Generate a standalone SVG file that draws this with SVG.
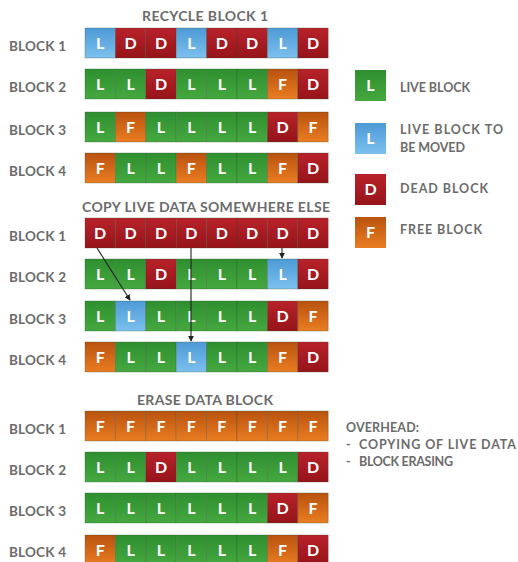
<svg xmlns="http://www.w3.org/2000/svg" width="518" height="562" viewBox="0 0 518 562">
<defs>
<linearGradient id="gG" x1="0" y1="0" x2="0" y2="1"><stop offset="0" stop-color="#2f8f30"/><stop offset="1" stop-color="#45a83f"/></linearGradient>
<linearGradient id="gB" x1="0" y1="0" x2="0" y2="1"><stop offset="0" stop-color="#4d9ad6"/><stop offset="1" stop-color="#7cc0ee"/></linearGradient>
<linearGradient id="gD" x1="0" y1="0" x2="0" y2="1"><stop offset="0" stop-color="#b8222a"/><stop offset="1" stop-color="#96141a"/></linearGradient>
<linearGradient id="gF" x1="0" y1="0" x2="0" y2="1"><stop offset="0" stop-color="#b8520f"/><stop offset="1" stop-color="#ea7d22"/></linearGradient>
<marker id="ah" viewBox="0 0 8 8" refX="7" refY="4" markerWidth="6" markerHeight="6" orient="auto" markerUnits="userSpaceOnUse"><path d="M0,0 L8,4 L0,8 z" fill="#222"/></marker>
</defs>
<style>
.t{font-family:Lato,"Open Sans","Liberation Sans",sans-serif;font-weight:700;fill:#6b6b6b;font-size:13.5px}
.h{font-family:Lato,"Open Sans","Liberation Sans",sans-serif;font-weight:700;fill:#6b6b6b;font-size:14px;text-anchor:middle}
.c{stroke:#2a4a2a;stroke-opacity:0.35;stroke-width:0.8}
.L{fill:url(#gG)}.B{fill:url(#gB)}.D{fill:url(#gD)}.F{fill:url(#gF)}
.k{font-family:Lato,"Open Sans","Liberation Sans",sans-serif;font-weight:700;fill:#fff;font-size:16px;text-anchor:middle}
.lg{font-family:Lato,"Open Sans","Liberation Sans",sans-serif;font-weight:700;fill:#6b6b6b;font-size:12.5px}
.ar{stroke:#222;stroke-width:1.1;fill:none}
</style>
<rect width="518" height="562" fill="#fff"/>

<text class="h" x="205" y="21" textLength="126">RECYCLE BLOCK 1</text>
<text class="h" x="206" y="212" textLength="248">COPY LIVE DATA SOMEWHERE ELSE</text>
<text class="h" x="205" y="405" textLength="136">ERASE DATA BLOCK</text>

<g id="a1"><text class="t" x="9" y="51" textLength="57">BLOCK 1</text>
<rect class="B c" x="85" y="28" width="30.4" height="30"/><rect class="D c" x="115.4" y="28" width="30.4" height="30"/><rect class="D c" x="145.8" y="28" width="30.4" height="30"/><rect class="B c" x="176.2" y="28" width="30.4" height="30"/><rect class="D c" x="206.6" y="28" width="30.4" height="30"/><rect class="D c" x="237" y="28" width="30.4" height="30"/><rect class="B c" x="267.4" y="28" width="30.4" height="30"/><rect class="D c" x="297.8" y="28" width="30.4" height="30"/>
<text class="k" y="49"><tspan x="100.2">L</tspan><tspan x="130.6">D</tspan><tspan x="161">D</tspan><tspan x="191.4">L</tspan><tspan x="221.8">D</tspan><tspan x="252.2">D</tspan><tspan x="282.6">L</tspan><tspan x="313">D</tspan></text></g>

<g id="a2"><text class="t" x="9" y="92" textLength="57">BLOCK 2</text>
<rect class="L c" x="85" y="69" width="30.4" height="30"/><rect class="L c" x="115.4" y="69" width="30.4" height="30"/><rect class="D c" x="145.8" y="69" width="30.4" height="30"/><rect class="L c" x="176.2" y="69" width="30.4" height="30"/><rect class="L c" x="206.6" y="69" width="30.4" height="30"/><rect class="L c" x="237" y="69" width="30.4" height="30"/><rect class="F c" x="267.4" y="69" width="30.4" height="30"/><rect class="D c" x="297.8" y="69" width="30.4" height="30"/>
<text class="k" y="90"><tspan x="100.2">L</tspan><tspan x="130.6">L</tspan><tspan x="161">D</tspan><tspan x="191.4">L</tspan><tspan x="221.8">L</tspan><tspan x="252.2">L</tspan><tspan x="282.6">F</tspan><tspan x="313">D</tspan></text></g>

<g id="a3"><text class="t" x="9" y="135" textLength="57">BLOCK 3</text>
<rect class="L c" x="85" y="112" width="30.4" height="30"/><rect class="F c" x="115.4" y="112" width="30.4" height="30"/><rect class="L c" x="145.8" y="112" width="30.4" height="30"/><rect class="L c" x="176.2" y="112" width="30.4" height="30"/><rect class="L c" x="206.6" y="112" width="30.4" height="30"/><rect class="L c" x="237" y="112" width="30.4" height="30"/><rect class="D c" x="267.4" y="112" width="30.4" height="30"/><rect class="F c" x="297.8" y="112" width="30.4" height="30"/>
<text class="k" y="133"><tspan x="100.2">L</tspan><tspan x="130.6">F</tspan><tspan x="161">L</tspan><tspan x="191.4">L</tspan><tspan x="221.8">L</tspan><tspan x="252.2">L</tspan><tspan x="282.6">D</tspan><tspan x="313">F</tspan></text></g>

<g id="a4"><text class="t" x="9" y="176" textLength="57">BLOCK 4</text>
<rect class="F c" x="85" y="153" width="30.4" height="30"/><rect class="L c" x="115.4" y="153" width="30.4" height="30"/><rect class="L c" x="145.8" y="153" width="30.4" height="30"/><rect class="F c" x="176.2" y="153" width="30.4" height="30"/><rect class="L c" x="206.6" y="153" width="30.4" height="30"/><rect class="L c" x="237" y="153" width="30.4" height="30"/><rect class="F c" x="267.4" y="153" width="30.4" height="30"/><rect class="D c" x="297.8" y="153" width="30.4" height="30"/>
<text class="k" y="174"><tspan x="100.2">F</tspan><tspan x="130.6">L</tspan><tspan x="161">L</tspan><tspan x="191.4">F</tspan><tspan x="221.8">L</tspan><tspan x="252.2">L</tspan><tspan x="282.6">F</tspan><tspan x="313">D</tspan></text></g>

<g id="b1"><text class="t" x="9" y="241" textLength="57">BLOCK 1</text>
<rect class="D c" x="85" y="218" width="30.4" height="30"/><rect class="D c" x="115.4" y="218" width="30.4" height="30"/><rect class="D c" x="145.8" y="218" width="30.4" height="30"/><rect class="D c" x="176.2" y="218" width="30.4" height="30"/><rect class="D c" x="206.6" y="218" width="30.4" height="30"/><rect class="D c" x="237" y="218" width="30.4" height="30"/><rect class="D c" x="267.4" y="218" width="30.4" height="30"/><rect class="D c" x="297.8" y="218" width="30.4" height="30"/>
<text class="k" y="239"><tspan x="100.2">D</tspan><tspan x="130.6">D</tspan><tspan x="161">D</tspan><tspan x="191.4">D</tspan><tspan x="221.8">D</tspan><tspan x="252.2">D</tspan><tspan x="282.6">D</tspan><tspan x="313">D</tspan></text></g>

<g id="b2"><text class="t" x="9" y="282" textLength="57">BLOCK 2</text>
<rect class="L c" x="85" y="259" width="30.4" height="30"/><rect class="L c" x="115.4" y="259" width="30.4" height="30"/><rect class="D c" x="145.8" y="259" width="30.4" height="30"/><rect class="L c" x="176.2" y="259" width="30.4" height="30"/><rect class="L c" x="206.6" y="259" width="30.4" height="30"/><rect class="L c" x="237" y="259" width="30.4" height="30"/><rect class="B c" x="267.4" y="259" width="30.4" height="30"/><rect class="D c" x="297.8" y="259" width="30.4" height="30"/>
<text class="k" y="280"><tspan x="100.2">L</tspan><tspan x="130.6">L</tspan><tspan x="161">D</tspan><tspan x="191.4">L</tspan><tspan x="221.8">L</tspan><tspan x="252.2">L</tspan><tspan x="282.6">L</tspan><tspan x="313">D</tspan></text></g>

<g id="b3"><text class="t" x="9" y="324" textLength="57">BLOCK 3</text>
<rect class="L c" x="85" y="301" width="30.4" height="30"/><rect class="B c" x="115.4" y="301" width="30.4" height="30"/><rect class="L c" x="145.8" y="301" width="30.4" height="30"/><rect class="L c" x="176.2" y="301" width="30.4" height="30"/><rect class="L c" x="206.6" y="301" width="30.4" height="30"/><rect class="L c" x="237" y="301" width="30.4" height="30"/><rect class="D c" x="267.4" y="301" width="30.4" height="30"/><rect class="F c" x="297.8" y="301" width="30.4" height="30"/>
<text class="k" y="322"><tspan x="100.2">L</tspan><tspan x="130.6">L</tspan><tspan x="161">L</tspan><tspan x="191.4">L</tspan><tspan x="221.8">L</tspan><tspan x="252.2">L</tspan><tspan x="282.6">D</tspan><tspan x="313">F</tspan></text></g>

<g id="b4"><text class="t" x="9" y="365" textLength="57">BLOCK 4</text>
<rect class="F c" x="85" y="342" width="30.4" height="30"/><rect class="L c" x="115.4" y="342" width="30.4" height="30"/><rect class="L c" x="145.8" y="342" width="30.4" height="30"/><rect class="B c" x="176.2" y="342" width="30.4" height="30"/><rect class="L c" x="206.6" y="342" width="30.4" height="30"/><rect class="L c" x="237" y="342" width="30.4" height="30"/><rect class="F c" x="267.4" y="342" width="30.4" height="30"/><rect class="D c" x="297.8" y="342" width="30.4" height="30"/>
<text class="k" y="363"><tspan x="100.2">F</tspan><tspan x="130.6">L</tspan><tspan x="161">L</tspan><tspan x="191.4">L</tspan><tspan x="221.8">L</tspan><tspan x="252.2">L</tspan><tspan x="282.6">F</tspan><tspan x="313">D</tspan></text></g>

<g id="c1"><text class="t" x="9" y="434" textLength="57">BLOCK 1</text>
<rect class="F c" x="85" y="411" width="30.4" height="30"/><rect class="F c" x="115.4" y="411" width="30.4" height="30"/><rect class="F c" x="145.8" y="411" width="30.4" height="30"/><rect class="F c" x="176.2" y="411" width="30.4" height="30"/><rect class="F c" x="206.6" y="411" width="30.4" height="30"/><rect class="F c" x="237" y="411" width="30.4" height="30"/><rect class="F c" x="267.4" y="411" width="30.4" height="30"/><rect class="F c" x="297.8" y="411" width="30.4" height="30"/>
<text class="k" y="432"><tspan x="100.2">F</tspan><tspan x="130.6">F</tspan><tspan x="161">F</tspan><tspan x="191.4">F</tspan><tspan x="221.8">F</tspan><tspan x="252.2">F</tspan><tspan x="282.6">F</tspan><tspan x="313">F</tspan></text></g>

<g id="c2"><text class="t" x="9" y="475" textLength="57">BLOCK 2</text>
<rect class="L c" x="85" y="452" width="30.4" height="30"/><rect class="L c" x="115.4" y="452" width="30.4" height="30"/><rect class="D c" x="145.8" y="452" width="30.4" height="30"/><rect class="L c" x="176.2" y="452" width="30.4" height="30"/><rect class="L c" x="206.6" y="452" width="30.4" height="30"/><rect class="L c" x="237" y="452" width="30.4" height="30"/><rect class="L c" x="267.4" y="452" width="30.4" height="30"/><rect class="D c" x="297.8" y="452" width="30.4" height="30"/>
<text class="k" y="473"><tspan x="100.2">L</tspan><tspan x="130.6">L</tspan><tspan x="161">D</tspan><tspan x="191.4">L</tspan><tspan x="221.8">L</tspan><tspan x="252.2">L</tspan><tspan x="282.6">L</tspan><tspan x="313">D</tspan></text></g>

<g id="c3"><text class="t" x="9" y="516" textLength="57">BLOCK 3</text>
<rect class="L c" x="85" y="493" width="30.4" height="30"/><rect class="L c" x="115.4" y="493" width="30.4" height="30"/><rect class="L c" x="145.8" y="493" width="30.4" height="30"/><rect class="L c" x="176.2" y="493" width="30.4" height="30"/><rect class="L c" x="206.6" y="493" width="30.4" height="30"/><rect class="L c" x="237" y="493" width="30.4" height="30"/><rect class="D c" x="267.4" y="493" width="30.4" height="30"/><rect class="F c" x="297.8" y="493" width="30.4" height="30"/>
<text class="k" y="514"><tspan x="100.2">L</tspan><tspan x="130.6">L</tspan><tspan x="161">L</tspan><tspan x="191.4">L</tspan><tspan x="221.8">L</tspan><tspan x="252.2">L</tspan><tspan x="282.6">D</tspan><tspan x="313">F</tspan></text></g>

<g id="c4"><text class="t" x="9" y="557" textLength="57">BLOCK 4</text>
<rect class="F c" x="85" y="535" width="30.4" height="30"/><rect class="L c" x="115.4" y="535" width="30.4" height="30"/><rect class="L c" x="145.8" y="535" width="30.4" height="30"/><rect class="L c" x="176.2" y="535" width="30.4" height="30"/><rect class="L c" x="206.6" y="535" width="30.4" height="30"/><rect class="L c" x="237" y="535" width="30.4" height="30"/><rect class="F c" x="267.4" y="535" width="30.4" height="30"/><rect class="D c" x="297.8" y="535" width="30.4" height="30"/>
<text class="k" y="556"><tspan x="100.2">F</tspan><tspan x="130.6">L</tspan><tspan x="161">L</tspan><tspan x="191.4">L</tspan><tspan x="221.8">L</tspan><tspan x="252.2">L</tspan><tspan x="282.6">F</tspan><tspan x="313">D</tspan></text></g>

<g id="connectors">
<line class="ar" x1="97" y1="248" x2="130" y2="300" marker-end="url(#ah)"/>
<line class="ar" x1="191" y1="248" x2="191" y2="341" marker-end="url(#ah)"/>
<line class="ar" x1="282" y1="248" x2="282" y2="258" marker-end="url(#ah)"/>
</g>

<g id="legend-live"><rect class="L" x="355" y="70" width="31" height="31"/><text class="k" x="370.5" y="91" font-size="14">L</text><text class="lg" x="400" y="92" textLength="70">LIVE BLOCK</text></g>
<g id="legend-moved"><rect class="B" x="355" y="123" width="31" height="31"/><text class="k" x="370.5" y="144" font-size="14">L</text><text class="lg" x="400" y="134" textLength="103">LIVE BLOCK TO</text><text class="lg" x="400" y="152" textLength="65">BE MOVED</text></g>
<g id="legend-dead"><rect class="D" x="355" y="174" width="31" height="31"/><text class="k" x="370.5" y="195" font-size="14">D</text><text class="lg" x="400" y="193" textLength="88">DEAD BLOCK</text></g>
<g id="legend-free"><rect class="F" x="355" y="217" width="31" height="31"/><text class="k" x="370.5" y="238" font-size="14">F</text><text class="lg" x="400" y="234" textLength="82">FREE BLOCK</text></g>

<g id="overhead">
<text class="lg" x="346" y="432" textLength="73">OVERHEAD:</text>
<text class="lg" x="346" y="449">-</text><text class="lg" x="359" y="449" textLength="157">COPYING OF LIVE DATA</text>
<text class="lg" x="346" y="466">-</text><text class="lg" x="359" y="466" textLength="94">BLOCK ERASING</text>
</g>
</svg>
